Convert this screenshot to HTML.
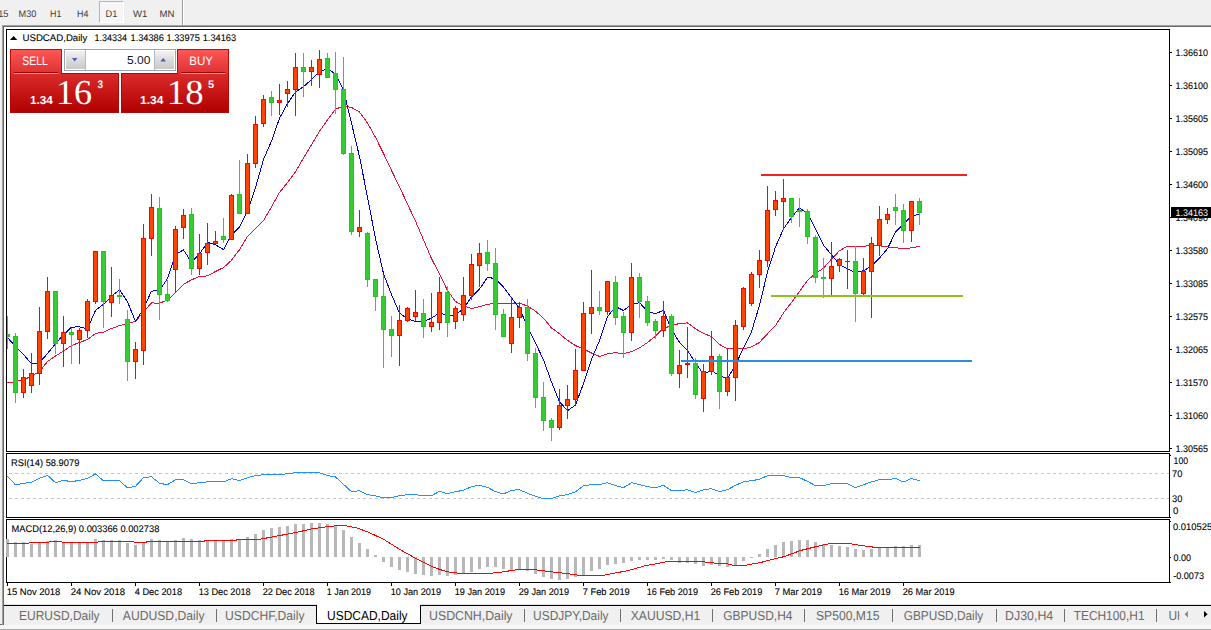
<!DOCTYPE html>
<html lang="en"><head><meta charset="utf-8"><title>USDCAD,Daily</title>
<style>
html,body{margin:0;padding:0}
body{width:1211px;height:630px;position:relative;overflow:hidden;background:#f0f0f0;font-family:"Liberation Sans",sans-serif}
div{position:absolute;box-sizing:border-box}
#toolbar{left:0;top:0;width:1211px;height:25px;background:#f0f0f0}
#d1{left:99px;top:1px;width:25px;height:22px;background:#f6f6f6;border:1px solid #fff;border-left-color:#b4b4b4;border-top-color:#b4b4b4}
#tbsep{left:182px;top:0;width:2px;height:25px;background:#fff;border-left:1px solid #a0a0a0}
#hl1{left:2px;top:25px;width:1209px;height:1px;background:#a0a0a0}
#hl2{left:2px;top:26px;width:1209px;height:1px;background:#696969}
#vl1{left:2px;top:25px;width:1px;height:600px;background:#a0a0a0}
#vl2{left:3px;top:26px;width:1px;height:599px;background:#696969}
#win{left:4px;top:27px;width:1207px;height:577px;background:#fff}
#tabbar{left:0;top:604px;width:1211px;height:26px;background:#f0f0f0}
#tabbar .l1{left:4px;top:0;width:1207px;height:1px;background:#e3e3e3}
#tabbar .l2{left:2px;top:1px;width:1209px;height:1px;background:#000}
#tabbar .b1{left:0;top:21px;width:1211px;height:4px;background:#f7f7f7}
#tabbar .b2{left:0;top:25px;width:1211px;height:1px;background:#a6a6a6}
#tabbar .foot{left:0;top:20px;width:4px;height:1px;background:#696969}
#active{left:316px;top:605px;width:105px;height:19px;background:#fff;border:1px solid #000;border-top:0}
#activetop{left:317px;top:603px;width:103px;height:3px;background:#fff}
svg{position:absolute;left:0;top:0}
text{font-family:"Liberation Sans",sans-serif;white-space:pre;text-rendering:geometricPrecision}
</style></head><body>
<div id="toolbar"><div id="d1"></div><div id="tbsep"></div></div>
<div id="win"></div>
<div id="hl1"></div><div id="hl2"></div>
<div id="tabbar"><div class="l1"></div><div class="l2"></div><div class="b1"></div><div class="b2"></div><div class="foot"></div></div>
<div id="vl1"></div><div id="vl2"></div>
<div id="active"></div><div id="activetop"></div>
<svg width="1211" height="630" viewBox="0 0 1211 630">
<defs>
<linearGradient id="gt" x1="0" y1="0" x2="0" y2="1"><stop offset="0" stop-color="#ff5656"/><stop offset="1" stop-color="#de3030"/></linearGradient>
<linearGradient id="gp" x1="0" y1="0" x2="0" y2="1"><stop offset="0" stop-color="#da2a2a"/><stop offset="1" stop-color="#b00000"/></linearGradient>
<linearGradient id="gb" x1="0" y1="0" x2="0" y2="1"><stop offset="0" stop-color="#f2f2f2"/><stop offset="0.5" stop-color="#dcdcdc"/><stop offset="1" stop-color="#c9c9c9"/></linearGradient>
<clipPath id="tabclip"><rect x="1160" y="606" width="19.4" height="18"/></clipPath>
<clipPath id="mainclip"><rect x="7" y="30" width="1162" height="421"/></clipPath>
</defs>
<g shape-rendering="crispEdges">
<!-- frame -->
<rect x="6" y="29" width="1164" height="1" fill="#000"/>
<rect x="6" y="29" width="1" height="554" fill="#000"/>
<rect x="1169" y="29" width="1" height="554" fill="#000"/>
<rect x="6" y="451" width="1164" height="1" fill="#000"/>
<rect x="6" y="452" width="1164" height="1" fill="#fff"/>
<rect x="6" y="453" width="1164" height="1" fill="#000"/>
<rect x="6" y="517" width="1164" height="1" fill="#000"/>
<rect x="6" y="518" width="1164" height="1" fill="#fff"/>
<rect x="6" y="519" width="1164" height="1" fill="#000"/>
<rect x="6" y="582" width="1164" height="1" fill="#000"/>
<rect x="1170" y="52" width="2" height="1" fill="#000"/><rect x="1170" y="85" width="2" height="1" fill="#000"/><rect x="1170" y="118" width="2" height="1" fill="#000"/><rect x="1170" y="151" width="2" height="1" fill="#000"/><rect x="1170" y="184" width="2" height="1" fill="#000"/><rect x="1170" y="217" width="2" height="1" fill="#000"/><rect x="1170" y="250" width="2" height="1" fill="#000"/><rect x="1170" y="283" width="2" height="1" fill="#000"/><rect x="1170" y="316" width="2" height="1" fill="#000"/><rect x="1170" y="349" width="2" height="1" fill="#000"/><rect x="1170" y="382" width="2" height="1" fill="#000"/><rect x="1170" y="415" width="2" height="1" fill="#000"/><rect x="1170" y="448" width="2" height="1" fill="#000"/><rect x="1170" y="455" width="1" height="1" fill="#000"/><rect x="1170" y="517" width="1" height="1" fill="#000"/><rect x="1170" y="521" width="1" height="1" fill="#000"/><rect x="1170" y="557" width="1" height="1" fill="#000"/><rect x="1170" y="582" width="1" height="1" fill="#000"/>
<rect x="7" y="583" width="1" height="3" fill="#000"/><rect x="71" y="583" width="1" height="3" fill="#000"/><rect x="135" y="583" width="1" height="3" fill="#000"/><rect x="199" y="583" width="1" height="3" fill="#000"/><rect x="263" y="583" width="1" height="3" fill="#000"/><rect x="327" y="583" width="1" height="3" fill="#000"/><rect x="391" y="583" width="1" height="3" fill="#000"/><rect x="455" y="583" width="1" height="3" fill="#000"/><rect x="519" y="583" width="1" height="3" fill="#000"/><rect x="583" y="583" width="1" height="3" fill="#000"/><rect x="647" y="583" width="1" height="3" fill="#000"/><rect x="711" y="583" width="1" height="3" fill="#000"/><rect x="775" y="583" width="1" height="3" fill="#000"/><rect x="839" y="583" width="1" height="3" fill="#000"/><rect x="903" y="583" width="1" height="3" fill="#000"/>
<rect x="9" y="473" width="3" height="1" fill="#c6c6c6"/><rect x="15" y="473" width="3" height="1" fill="#c6c6c6"/><rect x="21" y="473" width="3" height="1" fill="#c6c6c6"/><rect x="27" y="473" width="3" height="1" fill="#c6c6c6"/><rect x="33" y="473" width="3" height="1" fill="#c6c6c6"/><rect x="39" y="473" width="3" height="1" fill="#c6c6c6"/><rect x="45" y="473" width="3" height="1" fill="#c6c6c6"/><rect x="51" y="473" width="3" height="1" fill="#c6c6c6"/><rect x="57" y="473" width="3" height="1" fill="#c6c6c6"/><rect x="63" y="473" width="3" height="1" fill="#c6c6c6"/><rect x="69" y="473" width="3" height="1" fill="#c6c6c6"/><rect x="75" y="473" width="3" height="1" fill="#c6c6c6"/><rect x="81" y="473" width="3" height="1" fill="#c6c6c6"/><rect x="87" y="473" width="3" height="1" fill="#c6c6c6"/><rect x="93" y="473" width="3" height="1" fill="#c6c6c6"/><rect x="99" y="473" width="3" height="1" fill="#c6c6c6"/><rect x="105" y="473" width="3" height="1" fill="#c6c6c6"/><rect x="111" y="473" width="3" height="1" fill="#c6c6c6"/><rect x="117" y="473" width="3" height="1" fill="#c6c6c6"/><rect x="123" y="473" width="3" height="1" fill="#c6c6c6"/><rect x="129" y="473" width="3" height="1" fill="#c6c6c6"/><rect x="135" y="473" width="3" height="1" fill="#c6c6c6"/><rect x="141" y="473" width="3" height="1" fill="#c6c6c6"/><rect x="147" y="473" width="3" height="1" fill="#c6c6c6"/><rect x="153" y="473" width="3" height="1" fill="#c6c6c6"/><rect x="159" y="473" width="3" height="1" fill="#c6c6c6"/><rect x="165" y="473" width="3" height="1" fill="#c6c6c6"/><rect x="171" y="473" width="3" height="1" fill="#c6c6c6"/><rect x="177" y="473" width="3" height="1" fill="#c6c6c6"/><rect x="183" y="473" width="3" height="1" fill="#c6c6c6"/><rect x="189" y="473" width="3" height="1" fill="#c6c6c6"/><rect x="195" y="473" width="3" height="1" fill="#c6c6c6"/><rect x="201" y="473" width="3" height="1" fill="#c6c6c6"/><rect x="207" y="473" width="3" height="1" fill="#c6c6c6"/><rect x="213" y="473" width="3" height="1" fill="#c6c6c6"/><rect x="219" y="473" width="3" height="1" fill="#c6c6c6"/><rect x="225" y="473" width="3" height="1" fill="#c6c6c6"/><rect x="231" y="473" width="3" height="1" fill="#c6c6c6"/><rect x="237" y="473" width="3" height="1" fill="#c6c6c6"/><rect x="243" y="473" width="3" height="1" fill="#c6c6c6"/><rect x="249" y="473" width="3" height="1" fill="#c6c6c6"/><rect x="255" y="473" width="3" height="1" fill="#c6c6c6"/><rect x="261" y="473" width="3" height="1" fill="#c6c6c6"/><rect x="267" y="473" width="3" height="1" fill="#c6c6c6"/><rect x="273" y="473" width="3" height="1" fill="#c6c6c6"/><rect x="279" y="473" width="3" height="1" fill="#c6c6c6"/><rect x="285" y="473" width="3" height="1" fill="#c6c6c6"/><rect x="291" y="473" width="3" height="1" fill="#c6c6c6"/><rect x="297" y="473" width="3" height="1" fill="#c6c6c6"/><rect x="303" y="473" width="3" height="1" fill="#c6c6c6"/><rect x="309" y="473" width="3" height="1" fill="#c6c6c6"/><rect x="315" y="473" width="3" height="1" fill="#c6c6c6"/><rect x="321" y="473" width="3" height="1" fill="#c6c6c6"/><rect x="327" y="473" width="3" height="1" fill="#c6c6c6"/><rect x="333" y="473" width="3" height="1" fill="#c6c6c6"/><rect x="339" y="473" width="3" height="1" fill="#c6c6c6"/><rect x="345" y="473" width="3" height="1" fill="#c6c6c6"/><rect x="351" y="473" width="3" height="1" fill="#c6c6c6"/><rect x="357" y="473" width="3" height="1" fill="#c6c6c6"/><rect x="363" y="473" width="3" height="1" fill="#c6c6c6"/><rect x="369" y="473" width="3" height="1" fill="#c6c6c6"/><rect x="375" y="473" width="3" height="1" fill="#c6c6c6"/><rect x="381" y="473" width="3" height="1" fill="#c6c6c6"/><rect x="387" y="473" width="3" height="1" fill="#c6c6c6"/><rect x="393" y="473" width="3" height="1" fill="#c6c6c6"/><rect x="399" y="473" width="3" height="1" fill="#c6c6c6"/><rect x="405" y="473" width="3" height="1" fill="#c6c6c6"/><rect x="411" y="473" width="3" height="1" fill="#c6c6c6"/><rect x="417" y="473" width="3" height="1" fill="#c6c6c6"/><rect x="423" y="473" width="3" height="1" fill="#c6c6c6"/><rect x="429" y="473" width="3" height="1" fill="#c6c6c6"/><rect x="435" y="473" width="3" height="1" fill="#c6c6c6"/><rect x="441" y="473" width="3" height="1" fill="#c6c6c6"/><rect x="447" y="473" width="3" height="1" fill="#c6c6c6"/><rect x="453" y="473" width="3" height="1" fill="#c6c6c6"/><rect x="459" y="473" width="3" height="1" fill="#c6c6c6"/><rect x="465" y="473" width="3" height="1" fill="#c6c6c6"/><rect x="471" y="473" width="3" height="1" fill="#c6c6c6"/><rect x="477" y="473" width="3" height="1" fill="#c6c6c6"/><rect x="483" y="473" width="3" height="1" fill="#c6c6c6"/><rect x="489" y="473" width="3" height="1" fill="#c6c6c6"/><rect x="495" y="473" width="3" height="1" fill="#c6c6c6"/><rect x="501" y="473" width="3" height="1" fill="#c6c6c6"/><rect x="507" y="473" width="3" height="1" fill="#c6c6c6"/><rect x="513" y="473" width="3" height="1" fill="#c6c6c6"/><rect x="519" y="473" width="3" height="1" fill="#c6c6c6"/><rect x="525" y="473" width="3" height="1" fill="#c6c6c6"/><rect x="531" y="473" width="3" height="1" fill="#c6c6c6"/><rect x="537" y="473" width="3" height="1" fill="#c6c6c6"/><rect x="543" y="473" width="3" height="1" fill="#c6c6c6"/><rect x="549" y="473" width="3" height="1" fill="#c6c6c6"/><rect x="555" y="473" width="3" height="1" fill="#c6c6c6"/><rect x="561" y="473" width="3" height="1" fill="#c6c6c6"/><rect x="567" y="473" width="3" height="1" fill="#c6c6c6"/><rect x="573" y="473" width="3" height="1" fill="#c6c6c6"/><rect x="579" y="473" width="3" height="1" fill="#c6c6c6"/><rect x="585" y="473" width="3" height="1" fill="#c6c6c6"/><rect x="591" y="473" width="3" height="1" fill="#c6c6c6"/><rect x="597" y="473" width="3" height="1" fill="#c6c6c6"/><rect x="603" y="473" width="3" height="1" fill="#c6c6c6"/><rect x="609" y="473" width="3" height="1" fill="#c6c6c6"/><rect x="615" y="473" width="3" height="1" fill="#c6c6c6"/><rect x="621" y="473" width="3" height="1" fill="#c6c6c6"/><rect x="627" y="473" width="3" height="1" fill="#c6c6c6"/><rect x="633" y="473" width="3" height="1" fill="#c6c6c6"/><rect x="639" y="473" width="3" height="1" fill="#c6c6c6"/><rect x="645" y="473" width="3" height="1" fill="#c6c6c6"/><rect x="651" y="473" width="3" height="1" fill="#c6c6c6"/><rect x="657" y="473" width="3" height="1" fill="#c6c6c6"/><rect x="663" y="473" width="3" height="1" fill="#c6c6c6"/><rect x="669" y="473" width="3" height="1" fill="#c6c6c6"/><rect x="675" y="473" width="3" height="1" fill="#c6c6c6"/><rect x="681" y="473" width="3" height="1" fill="#c6c6c6"/><rect x="687" y="473" width="3" height="1" fill="#c6c6c6"/><rect x="693" y="473" width="3" height="1" fill="#c6c6c6"/><rect x="699" y="473" width="3" height="1" fill="#c6c6c6"/><rect x="705" y="473" width="3" height="1" fill="#c6c6c6"/><rect x="711" y="473" width="3" height="1" fill="#c6c6c6"/><rect x="717" y="473" width="3" height="1" fill="#c6c6c6"/><rect x="723" y="473" width="3" height="1" fill="#c6c6c6"/><rect x="729" y="473" width="3" height="1" fill="#c6c6c6"/><rect x="735" y="473" width="3" height="1" fill="#c6c6c6"/><rect x="741" y="473" width="3" height="1" fill="#c6c6c6"/><rect x="747" y="473" width="3" height="1" fill="#c6c6c6"/><rect x="753" y="473" width="3" height="1" fill="#c6c6c6"/><rect x="759" y="473" width="3" height="1" fill="#c6c6c6"/><rect x="765" y="473" width="3" height="1" fill="#c6c6c6"/><rect x="771" y="473" width="3" height="1" fill="#c6c6c6"/><rect x="777" y="473" width="3" height="1" fill="#c6c6c6"/><rect x="783" y="473" width="3" height="1" fill="#c6c6c6"/><rect x="789" y="473" width="3" height="1" fill="#c6c6c6"/><rect x="795" y="473" width="3" height="1" fill="#c6c6c6"/><rect x="801" y="473" width="3" height="1" fill="#c6c6c6"/><rect x="807" y="473" width="3" height="1" fill="#c6c6c6"/><rect x="813" y="473" width="3" height="1" fill="#c6c6c6"/><rect x="819" y="473" width="3" height="1" fill="#c6c6c6"/><rect x="825" y="473" width="3" height="1" fill="#c6c6c6"/><rect x="831" y="473" width="3" height="1" fill="#c6c6c6"/><rect x="837" y="473" width="3" height="1" fill="#c6c6c6"/><rect x="843" y="473" width="3" height="1" fill="#c6c6c6"/><rect x="849" y="473" width="3" height="1" fill="#c6c6c6"/><rect x="855" y="473" width="3" height="1" fill="#c6c6c6"/><rect x="861" y="473" width="3" height="1" fill="#c6c6c6"/><rect x="867" y="473" width="3" height="1" fill="#c6c6c6"/><rect x="873" y="473" width="3" height="1" fill="#c6c6c6"/><rect x="879" y="473" width="3" height="1" fill="#c6c6c6"/><rect x="885" y="473" width="3" height="1" fill="#c6c6c6"/><rect x="891" y="473" width="3" height="1" fill="#c6c6c6"/><rect x="897" y="473" width="3" height="1" fill="#c6c6c6"/><rect x="903" y="473" width="3" height="1" fill="#c6c6c6"/><rect x="909" y="473" width="3" height="1" fill="#c6c6c6"/><rect x="915" y="473" width="3" height="1" fill="#c6c6c6"/><rect x="921" y="473" width="3" height="1" fill="#c6c6c6"/><rect x="927" y="473" width="3" height="1" fill="#c6c6c6"/><rect x="933" y="473" width="3" height="1" fill="#c6c6c6"/><rect x="939" y="473" width="3" height="1" fill="#c6c6c6"/><rect x="945" y="473" width="3" height="1" fill="#c6c6c6"/><rect x="951" y="473" width="3" height="1" fill="#c6c6c6"/><rect x="957" y="473" width="3" height="1" fill="#c6c6c6"/><rect x="963" y="473" width="3" height="1" fill="#c6c6c6"/><rect x="969" y="473" width="3" height="1" fill="#c6c6c6"/><rect x="975" y="473" width="3" height="1" fill="#c6c6c6"/><rect x="981" y="473" width="3" height="1" fill="#c6c6c6"/><rect x="987" y="473" width="3" height="1" fill="#c6c6c6"/><rect x="993" y="473" width="3" height="1" fill="#c6c6c6"/><rect x="999" y="473" width="3" height="1" fill="#c6c6c6"/><rect x="1005" y="473" width="3" height="1" fill="#c6c6c6"/><rect x="1011" y="473" width="3" height="1" fill="#c6c6c6"/><rect x="1017" y="473" width="3" height="1" fill="#c6c6c6"/><rect x="1023" y="473" width="3" height="1" fill="#c6c6c6"/><rect x="1029" y="473" width="3" height="1" fill="#c6c6c6"/><rect x="1035" y="473" width="3" height="1" fill="#c6c6c6"/><rect x="1041" y="473" width="3" height="1" fill="#c6c6c6"/><rect x="1047" y="473" width="3" height="1" fill="#c6c6c6"/><rect x="1053" y="473" width="3" height="1" fill="#c6c6c6"/><rect x="1059" y="473" width="3" height="1" fill="#c6c6c6"/><rect x="1065" y="473" width="3" height="1" fill="#c6c6c6"/><rect x="1071" y="473" width="3" height="1" fill="#c6c6c6"/><rect x="1077" y="473" width="3" height="1" fill="#c6c6c6"/><rect x="1083" y="473" width="3" height="1" fill="#c6c6c6"/><rect x="1089" y="473" width="3" height="1" fill="#c6c6c6"/><rect x="1095" y="473" width="3" height="1" fill="#c6c6c6"/><rect x="1101" y="473" width="3" height="1" fill="#c6c6c6"/><rect x="1107" y="473" width="3" height="1" fill="#c6c6c6"/><rect x="1113" y="473" width="3" height="1" fill="#c6c6c6"/><rect x="1119" y="473" width="3" height="1" fill="#c6c6c6"/><rect x="1125" y="473" width="3" height="1" fill="#c6c6c6"/><rect x="1131" y="473" width="3" height="1" fill="#c6c6c6"/><rect x="1137" y="473" width="3" height="1" fill="#c6c6c6"/><rect x="1143" y="473" width="3" height="1" fill="#c6c6c6"/><rect x="1149" y="473" width="3" height="1" fill="#c6c6c6"/><rect x="1155" y="473" width="3" height="1" fill="#c6c6c6"/><rect x="1161" y="473" width="3" height="1" fill="#c6c6c6"/><rect x="1167" y="473" width="2" height="1" fill="#c6c6c6"/><rect x="9" y="498" width="3" height="1" fill="#c6c6c6"/><rect x="15" y="498" width="3" height="1" fill="#c6c6c6"/><rect x="21" y="498" width="3" height="1" fill="#c6c6c6"/><rect x="27" y="498" width="3" height="1" fill="#c6c6c6"/><rect x="33" y="498" width="3" height="1" fill="#c6c6c6"/><rect x="39" y="498" width="3" height="1" fill="#c6c6c6"/><rect x="45" y="498" width="3" height="1" fill="#c6c6c6"/><rect x="51" y="498" width="3" height="1" fill="#c6c6c6"/><rect x="57" y="498" width="3" height="1" fill="#c6c6c6"/><rect x="63" y="498" width="3" height="1" fill="#c6c6c6"/><rect x="69" y="498" width="3" height="1" fill="#c6c6c6"/><rect x="75" y="498" width="3" height="1" fill="#c6c6c6"/><rect x="81" y="498" width="3" height="1" fill="#c6c6c6"/><rect x="87" y="498" width="3" height="1" fill="#c6c6c6"/><rect x="93" y="498" width="3" height="1" fill="#c6c6c6"/><rect x="99" y="498" width="3" height="1" fill="#c6c6c6"/><rect x="105" y="498" width="3" height="1" fill="#c6c6c6"/><rect x="111" y="498" width="3" height="1" fill="#c6c6c6"/><rect x="117" y="498" width="3" height="1" fill="#c6c6c6"/><rect x="123" y="498" width="3" height="1" fill="#c6c6c6"/><rect x="129" y="498" width="3" height="1" fill="#c6c6c6"/><rect x="135" y="498" width="3" height="1" fill="#c6c6c6"/><rect x="141" y="498" width="3" height="1" fill="#c6c6c6"/><rect x="147" y="498" width="3" height="1" fill="#c6c6c6"/><rect x="153" y="498" width="3" height="1" fill="#c6c6c6"/><rect x="159" y="498" width="3" height="1" fill="#c6c6c6"/><rect x="165" y="498" width="3" height="1" fill="#c6c6c6"/><rect x="171" y="498" width="3" height="1" fill="#c6c6c6"/><rect x="177" y="498" width="3" height="1" fill="#c6c6c6"/><rect x="183" y="498" width="3" height="1" fill="#c6c6c6"/><rect x="189" y="498" width="3" height="1" fill="#c6c6c6"/><rect x="195" y="498" width="3" height="1" fill="#c6c6c6"/><rect x="201" y="498" width="3" height="1" fill="#c6c6c6"/><rect x="207" y="498" width="3" height="1" fill="#c6c6c6"/><rect x="213" y="498" width="3" height="1" fill="#c6c6c6"/><rect x="219" y="498" width="3" height="1" fill="#c6c6c6"/><rect x="225" y="498" width="3" height="1" fill="#c6c6c6"/><rect x="231" y="498" width="3" height="1" fill="#c6c6c6"/><rect x="237" y="498" width="3" height="1" fill="#c6c6c6"/><rect x="243" y="498" width="3" height="1" fill="#c6c6c6"/><rect x="249" y="498" width="3" height="1" fill="#c6c6c6"/><rect x="255" y="498" width="3" height="1" fill="#c6c6c6"/><rect x="261" y="498" width="3" height="1" fill="#c6c6c6"/><rect x="267" y="498" width="3" height="1" fill="#c6c6c6"/><rect x="273" y="498" width="3" height="1" fill="#c6c6c6"/><rect x="279" y="498" width="3" height="1" fill="#c6c6c6"/><rect x="285" y="498" width="3" height="1" fill="#c6c6c6"/><rect x="291" y="498" width="3" height="1" fill="#c6c6c6"/><rect x="297" y="498" width="3" height="1" fill="#c6c6c6"/><rect x="303" y="498" width="3" height="1" fill="#c6c6c6"/><rect x="309" y="498" width="3" height="1" fill="#c6c6c6"/><rect x="315" y="498" width="3" height="1" fill="#c6c6c6"/><rect x="321" y="498" width="3" height="1" fill="#c6c6c6"/><rect x="327" y="498" width="3" height="1" fill="#c6c6c6"/><rect x="333" y="498" width="3" height="1" fill="#c6c6c6"/><rect x="339" y="498" width="3" height="1" fill="#c6c6c6"/><rect x="345" y="498" width="3" height="1" fill="#c6c6c6"/><rect x="351" y="498" width="3" height="1" fill="#c6c6c6"/><rect x="357" y="498" width="3" height="1" fill="#c6c6c6"/><rect x="363" y="498" width="3" height="1" fill="#c6c6c6"/><rect x="369" y="498" width="3" height="1" fill="#c6c6c6"/><rect x="375" y="498" width="3" height="1" fill="#c6c6c6"/><rect x="381" y="498" width="3" height="1" fill="#c6c6c6"/><rect x="387" y="498" width="3" height="1" fill="#c6c6c6"/><rect x="393" y="498" width="3" height="1" fill="#c6c6c6"/><rect x="399" y="498" width="3" height="1" fill="#c6c6c6"/><rect x="405" y="498" width="3" height="1" fill="#c6c6c6"/><rect x="411" y="498" width="3" height="1" fill="#c6c6c6"/><rect x="417" y="498" width="3" height="1" fill="#c6c6c6"/><rect x="423" y="498" width="3" height="1" fill="#c6c6c6"/><rect x="429" y="498" width="3" height="1" fill="#c6c6c6"/><rect x="435" y="498" width="3" height="1" fill="#c6c6c6"/><rect x="441" y="498" width="3" height="1" fill="#c6c6c6"/><rect x="447" y="498" width="3" height="1" fill="#c6c6c6"/><rect x="453" y="498" width="3" height="1" fill="#c6c6c6"/><rect x="459" y="498" width="3" height="1" fill="#c6c6c6"/><rect x="465" y="498" width="3" height="1" fill="#c6c6c6"/><rect x="471" y="498" width="3" height="1" fill="#c6c6c6"/><rect x="477" y="498" width="3" height="1" fill="#c6c6c6"/><rect x="483" y="498" width="3" height="1" fill="#c6c6c6"/><rect x="489" y="498" width="3" height="1" fill="#c6c6c6"/><rect x="495" y="498" width="3" height="1" fill="#c6c6c6"/><rect x="501" y="498" width="3" height="1" fill="#c6c6c6"/><rect x="507" y="498" width="3" height="1" fill="#c6c6c6"/><rect x="513" y="498" width="3" height="1" fill="#c6c6c6"/><rect x="519" y="498" width="3" height="1" fill="#c6c6c6"/><rect x="525" y="498" width="3" height="1" fill="#c6c6c6"/><rect x="531" y="498" width="3" height="1" fill="#c6c6c6"/><rect x="537" y="498" width="3" height="1" fill="#c6c6c6"/><rect x="543" y="498" width="3" height="1" fill="#c6c6c6"/><rect x="549" y="498" width="3" height="1" fill="#c6c6c6"/><rect x="555" y="498" width="3" height="1" fill="#c6c6c6"/><rect x="561" y="498" width="3" height="1" fill="#c6c6c6"/><rect x="567" y="498" width="3" height="1" fill="#c6c6c6"/><rect x="573" y="498" width="3" height="1" fill="#c6c6c6"/><rect x="579" y="498" width="3" height="1" fill="#c6c6c6"/><rect x="585" y="498" width="3" height="1" fill="#c6c6c6"/><rect x="591" y="498" width="3" height="1" fill="#c6c6c6"/><rect x="597" y="498" width="3" height="1" fill="#c6c6c6"/><rect x="603" y="498" width="3" height="1" fill="#c6c6c6"/><rect x="609" y="498" width="3" height="1" fill="#c6c6c6"/><rect x="615" y="498" width="3" height="1" fill="#c6c6c6"/><rect x="621" y="498" width="3" height="1" fill="#c6c6c6"/><rect x="627" y="498" width="3" height="1" fill="#c6c6c6"/><rect x="633" y="498" width="3" height="1" fill="#c6c6c6"/><rect x="639" y="498" width="3" height="1" fill="#c6c6c6"/><rect x="645" y="498" width="3" height="1" fill="#c6c6c6"/><rect x="651" y="498" width="3" height="1" fill="#c6c6c6"/><rect x="657" y="498" width="3" height="1" fill="#c6c6c6"/><rect x="663" y="498" width="3" height="1" fill="#c6c6c6"/><rect x="669" y="498" width="3" height="1" fill="#c6c6c6"/><rect x="675" y="498" width="3" height="1" fill="#c6c6c6"/><rect x="681" y="498" width="3" height="1" fill="#c6c6c6"/><rect x="687" y="498" width="3" height="1" fill="#c6c6c6"/><rect x="693" y="498" width="3" height="1" fill="#c6c6c6"/><rect x="699" y="498" width="3" height="1" fill="#c6c6c6"/><rect x="705" y="498" width="3" height="1" fill="#c6c6c6"/><rect x="711" y="498" width="3" height="1" fill="#c6c6c6"/><rect x="717" y="498" width="3" height="1" fill="#c6c6c6"/><rect x="723" y="498" width="3" height="1" fill="#c6c6c6"/><rect x="729" y="498" width="3" height="1" fill="#c6c6c6"/><rect x="735" y="498" width="3" height="1" fill="#c6c6c6"/><rect x="741" y="498" width="3" height="1" fill="#c6c6c6"/><rect x="747" y="498" width="3" height="1" fill="#c6c6c6"/><rect x="753" y="498" width="3" height="1" fill="#c6c6c6"/><rect x="759" y="498" width="3" height="1" fill="#c6c6c6"/><rect x="765" y="498" width="3" height="1" fill="#c6c6c6"/><rect x="771" y="498" width="3" height="1" fill="#c6c6c6"/><rect x="777" y="498" width="3" height="1" fill="#c6c6c6"/><rect x="783" y="498" width="3" height="1" fill="#c6c6c6"/><rect x="789" y="498" width="3" height="1" fill="#c6c6c6"/><rect x="795" y="498" width="3" height="1" fill="#c6c6c6"/><rect x="801" y="498" width="3" height="1" fill="#c6c6c6"/><rect x="807" y="498" width="3" height="1" fill="#c6c6c6"/><rect x="813" y="498" width="3" height="1" fill="#c6c6c6"/><rect x="819" y="498" width="3" height="1" fill="#c6c6c6"/><rect x="825" y="498" width="3" height="1" fill="#c6c6c6"/><rect x="831" y="498" width="3" height="1" fill="#c6c6c6"/><rect x="837" y="498" width="3" height="1" fill="#c6c6c6"/><rect x="843" y="498" width="3" height="1" fill="#c6c6c6"/><rect x="849" y="498" width="3" height="1" fill="#c6c6c6"/><rect x="855" y="498" width="3" height="1" fill="#c6c6c6"/><rect x="861" y="498" width="3" height="1" fill="#c6c6c6"/><rect x="867" y="498" width="3" height="1" fill="#c6c6c6"/><rect x="873" y="498" width="3" height="1" fill="#c6c6c6"/><rect x="879" y="498" width="3" height="1" fill="#c6c6c6"/><rect x="885" y="498" width="3" height="1" fill="#c6c6c6"/><rect x="891" y="498" width="3" height="1" fill="#c6c6c6"/><rect x="897" y="498" width="3" height="1" fill="#c6c6c6"/><rect x="903" y="498" width="3" height="1" fill="#c6c6c6"/><rect x="909" y="498" width="3" height="1" fill="#c6c6c6"/><rect x="915" y="498" width="3" height="1" fill="#c6c6c6"/><rect x="921" y="498" width="3" height="1" fill="#c6c6c6"/><rect x="927" y="498" width="3" height="1" fill="#c6c6c6"/><rect x="933" y="498" width="3" height="1" fill="#c6c6c6"/><rect x="939" y="498" width="3" height="1" fill="#c6c6c6"/><rect x="945" y="498" width="3" height="1" fill="#c6c6c6"/><rect x="951" y="498" width="3" height="1" fill="#c6c6c6"/><rect x="957" y="498" width="3" height="1" fill="#c6c6c6"/><rect x="963" y="498" width="3" height="1" fill="#c6c6c6"/><rect x="969" y="498" width="3" height="1" fill="#c6c6c6"/><rect x="975" y="498" width="3" height="1" fill="#c6c6c6"/><rect x="981" y="498" width="3" height="1" fill="#c6c6c6"/><rect x="987" y="498" width="3" height="1" fill="#c6c6c6"/><rect x="993" y="498" width="3" height="1" fill="#c6c6c6"/><rect x="999" y="498" width="3" height="1" fill="#c6c6c6"/><rect x="1005" y="498" width="3" height="1" fill="#c6c6c6"/><rect x="1011" y="498" width="3" height="1" fill="#c6c6c6"/><rect x="1017" y="498" width="3" height="1" fill="#c6c6c6"/><rect x="1023" y="498" width="3" height="1" fill="#c6c6c6"/><rect x="1029" y="498" width="3" height="1" fill="#c6c6c6"/><rect x="1035" y="498" width="3" height="1" fill="#c6c6c6"/><rect x="1041" y="498" width="3" height="1" fill="#c6c6c6"/><rect x="1047" y="498" width="3" height="1" fill="#c6c6c6"/><rect x="1053" y="498" width="3" height="1" fill="#c6c6c6"/><rect x="1059" y="498" width="3" height="1" fill="#c6c6c6"/><rect x="1065" y="498" width="3" height="1" fill="#c6c6c6"/><rect x="1071" y="498" width="3" height="1" fill="#c6c6c6"/><rect x="1077" y="498" width="3" height="1" fill="#c6c6c6"/><rect x="1083" y="498" width="3" height="1" fill="#c6c6c6"/><rect x="1089" y="498" width="3" height="1" fill="#c6c6c6"/><rect x="1095" y="498" width="3" height="1" fill="#c6c6c6"/><rect x="1101" y="498" width="3" height="1" fill="#c6c6c6"/><rect x="1107" y="498" width="3" height="1" fill="#c6c6c6"/><rect x="1113" y="498" width="3" height="1" fill="#c6c6c6"/><rect x="1119" y="498" width="3" height="1" fill="#c6c6c6"/><rect x="1125" y="498" width="3" height="1" fill="#c6c6c6"/><rect x="1131" y="498" width="3" height="1" fill="#c6c6c6"/><rect x="1137" y="498" width="3" height="1" fill="#c6c6c6"/><rect x="1143" y="498" width="3" height="1" fill="#c6c6c6"/><rect x="1149" y="498" width="3" height="1" fill="#c6c6c6"/><rect x="1155" y="498" width="3" height="1" fill="#c6c6c6"/><rect x="1161" y="498" width="3" height="1" fill="#c6c6c6"/><rect x="1167" y="498" width="2" height="1" fill="#c6c6c6"/>
<g clip-path="url(#mainclip)">
<polyline points="7.5,382.9 15.5,381.5 23.5,380.0 31.5,376.0 39.5,371.5 47.5,361.5 55.5,356.0 63.5,351.0 71.5,345.5 79.5,342.5 87.5,339.5 95.5,333.5 103.5,332.1 111.5,328.5 119.5,325.6 127.5,323.4 135.5,321.4 143.5,311.8 151.5,302.9 159.5,303.2 167.5,300.1 175.5,292.8 183.5,284.2 191.5,279.9 199.5,276.4 207.5,275.9 215.5,271.5 223.5,267.6 231.5,260.3 239.5,249.7 247.5,236.4 255.5,228.3 263.5,220.6 271.5,206.9 279.5,192.5 287.5,182.5 295.5,171.9 303.5,157.9 311.5,144.6 319.5,131.4 327.5,119.8 335.5,109.1 343.5,106.1 351.5,107.4 359.5,112.0 367.5,123.1 375.5,137.3 383.5,153.5 391.5,170.4 399.5,186.9 407.5,204.1 415.5,221.2 423.5,239.8 431.5,258.6 439.5,273.9 447.5,290.5 455.5,301.5 463.5,306.0 471.5,308.6 479.5,306.7 487.5,304.4 495.5,303.3 503.5,303.4 511.5,303.1 519.5,303.1 527.5,306.1 535.5,311.1 543.5,318.2 551.5,327.9 559.5,333.8 567.5,340.3 575.5,345.6 583.5,349.1 591.5,353.0 599.5,356.4 607.5,353.9 615.5,352.6 623.5,353.7 631.5,351.6 639.5,347.9 647.5,342.5 655.5,336.1 663.5,328.1 671.5,325.9 679.5,323.4 687.5,322.9 695.5,328.8 703.5,333.4 711.5,336.6 719.5,344.5 727.5,348.7 735.5,348.1 743.5,348.9 751.5,346.9 759.5,342.4 767.5,333.8 775.5,325.5 783.5,312.9 791.5,302.4 799.5,291.6 807.5,280.3 815.5,273.6 823.5,268.1 831.5,259.1 839.5,250.7 847.5,246.1 855.5,246.6 863.5,246.4 871.5,245.1 879.5,245.8 887.5,246.8 895.5,247.7 903.5,248.7 911.5,247.9 919.5,246.2" fill="none" stroke="#dc143c" stroke-width="1"/>
<polyline points="7.5,337.5 15.5,346.5 23.5,354.5 31.5,363.9 39.5,362.7 47.5,353.5 55.5,343.7 63.5,334.7 71.5,327.1 79.5,326.9 87.5,328.9 95.5,310.3 103.5,304.3 111.5,296.3 119.5,289.7 127.5,301.9 135.5,321.5 143.5,308.7 151.5,291.1 159.5,290.7 167.5,278.5 175.5,254.5 183.5,249.9 191.5,262.3 199.5,253.9 207.5,242.3 215.5,244.7 223.5,249.7 231.5,234.9 239.5,227.1 247.5,211.1 255.5,187.7 263.5,159.5 271.5,141.1 279.5,118.3 287.5,103.5 295.5,92.1 303.5,86.7 311.5,79.5 319.5,71.3 327.5,69.1 335.5,73.7 343.5,90.1 351.5,123.1 359.5,156.7 367.5,197.1 375.5,238.5 383.5,273.7 391.5,294.5 399.5,313.1 407.5,318.7 415.5,321.7 423.5,321.1 431.5,318.3 439.5,312.7 447.5,315.7 455.5,314.9 463.5,308.5 471.5,296.9 479.5,289.1 487.5,277.3 495.5,278.7 503.5,287.1 511.5,297.7 519.5,308.5 527.5,326.5 535.5,343.1 543.5,359.9 551.5,382.1 559.5,401.7 567.5,410.7 575.5,405.1 583.5,383.5 591.5,359.3 599.5,340.5 607.5,316.9 615.5,306.5 623.5,310.5 631.5,304.5 639.5,302.7 647.5,311.1 655.5,313.7 663.5,310.3 671.5,329.7 679.5,342.3 687.5,350.3 695.5,363.1 703.5,374.1 711.5,370.5 719.5,375.9 727.5,378.7 735.5,364.7 743.5,348.1 751.5,331.7 759.5,305.3 767.5,271.9 775.5,246.9 783.5,228.9 791.5,217.5 799.5,207.9 807.5,213.3 815.5,228.9 823.5,245.1 831.5,254.9 839.5,264.3 847.5,269.1 855.5,272.3 863.5,270.7 871.5,266.1 879.5,258.1 887.5,248.7 895.5,232.1 903.5,224.1 911.5,215.7 919.5,214.5" fill="none" stroke="#0000cd" stroke-width="1"/>
<rect x="7" y="316" width="1" height="33" fill="#32cd32"/>
<rect x="5" y="334" width="5" height="3" fill="#21c721"/>
<rect x="6" y="335" width="3" height="1" fill="#32cd32"/>
<rect x="15" y="333" width="1" height="70" fill="#32cd32"/>
<rect x="13" y="336" width="5" height="57" fill="#21c721"/>
<rect x="14" y="337" width="3" height="55" fill="#32cd32"/>
<rect x="23" y="369" width="1" height="29" fill="#ff0000"/>
<rect x="21" y="377" width="5" height="16" fill="#ff0000"/>
<rect x="22" y="378" width="3" height="14" fill="#ff4500"/>
<rect x="31" y="353" width="1" height="40" fill="#ff0000"/>
<rect x="29" y="373" width="5" height="13" fill="#ff0000"/>
<rect x="30" y="374" width="3" height="11" fill="#ff4500"/>
<rect x="39" y="307" width="1" height="78" fill="#ff0000"/>
<rect x="37" y="331" width="5" height="43" fill="#ff0000"/>
<rect x="38" y="332" width="3" height="41" fill="#ff4500"/>
<rect x="47" y="277" width="1" height="62" fill="#ff0000"/>
<rect x="45" y="291" width="5" height="41" fill="#ff0000"/>
<rect x="46" y="292" width="3" height="39" fill="#ff4500"/>
<rect x="55" y="291" width="1" height="63" fill="#32cd32"/>
<rect x="53" y="291" width="5" height="53" fill="#21c721"/>
<rect x="54" y="292" width="3" height="51" fill="#32cd32"/>
<rect x="63" y="316" width="1" height="51" fill="#ff0000"/>
<rect x="61" y="332" width="5" height="12" fill="#ff0000"/>
<rect x="62" y="333" width="3" height="10" fill="#ff4500"/>
<rect x="71" y="328" width="1" height="36" fill="#32cd32"/>
<rect x="69" y="332" width="5" height="3" fill="#21c721"/>
<rect x="70" y="333" width="3" height="1" fill="#32cd32"/>
<rect x="79" y="328" width="1" height="36" fill="#ff0000"/>
<rect x="77" y="330" width="5" height="10" fill="#ff0000"/>
<rect x="78" y="331" width="3" height="8" fill="#ff4500"/>
<rect x="87" y="299" width="1" height="39" fill="#ff0000"/>
<rect x="85" y="301" width="5" height="30" fill="#ff0000"/>
<rect x="86" y="302" width="3" height="28" fill="#ff4500"/>
<rect x="95" y="251" width="1" height="53" fill="#ff0000"/>
<rect x="93" y="251" width="5" height="51" fill="#ff0000"/>
<rect x="94" y="252" width="3" height="49" fill="#ff4500"/>
<rect x="103" y="251" width="1" height="77" fill="#32cd32"/>
<rect x="101" y="251" width="5" height="51" fill="#21c721"/>
<rect x="102" y="252" width="3" height="49" fill="#32cd32"/>
<rect x="111" y="267" width="1" height="50" fill="#ff0000"/>
<rect x="109" y="295" width="5" height="8" fill="#ff0000"/>
<rect x="110" y="296" width="3" height="6" fill="#ff4500"/>
<rect x="119" y="279" width="1" height="25" fill="#32cd32"/>
<rect x="117" y="295" width="5" height="2" fill="#21c721"/>
<rect x="127" y="310" width="1" height="71" fill="#32cd32"/>
<rect x="125" y="319" width="5" height="43" fill="#21c721"/>
<rect x="126" y="320" width="3" height="41" fill="#32cd32"/>
<rect x="135" y="342" width="1" height="37" fill="#ff0000"/>
<rect x="133" y="349" width="5" height="13" fill="#ff0000"/>
<rect x="134" y="350" width="3" height="11" fill="#ff4500"/>
<rect x="143" y="224" width="1" height="141" fill="#ff0000"/>
<rect x="141" y="238" width="5" height="113" fill="#ff0000"/>
<rect x="142" y="239" width="3" height="111" fill="#ff4500"/>
<rect x="151" y="194" width="1" height="62" fill="#ff0000"/>
<rect x="149" y="207" width="5" height="32" fill="#ff0000"/>
<rect x="150" y="208" width="3" height="30" fill="#ff4500"/>
<rect x="159" y="197" width="1" height="123" fill="#32cd32"/>
<rect x="157" y="208" width="5" height="87" fill="#21c721"/>
<rect x="158" y="209" width="3" height="85" fill="#32cd32"/>
<rect x="167" y="280" width="1" height="22" fill="#32cd32"/>
<rect x="165" y="294" width="5" height="7" fill="#21c721"/>
<rect x="166" y="295" width="3" height="5" fill="#32cd32"/>
<rect x="175" y="226" width="1" height="67" fill="#ff0000"/>
<rect x="173" y="229" width="5" height="41" fill="#ff0000"/>
<rect x="174" y="230" width="3" height="39" fill="#ff4500"/>
<rect x="183" y="209" width="1" height="30" fill="#ff0000"/>
<rect x="181" y="215" width="5" height="13" fill="#ff0000"/>
<rect x="182" y="216" width="3" height="11" fill="#ff4500"/>
<rect x="191" y="208" width="1" height="67" fill="#32cd32"/>
<rect x="189" y="214" width="5" height="55" fill="#21c721"/>
<rect x="190" y="215" width="3" height="53" fill="#32cd32"/>
<rect x="199" y="234" width="1" height="41" fill="#ff0000"/>
<rect x="197" y="253" width="5" height="16" fill="#ff0000"/>
<rect x="198" y="254" width="3" height="14" fill="#ff4500"/>
<rect x="207" y="223" width="1" height="42" fill="#ff0000"/>
<rect x="205" y="243" width="5" height="10" fill="#ff0000"/>
<rect x="206" y="244" width="3" height="8" fill="#ff4500"/>
<rect x="215" y="231" width="1" height="13" fill="#ff0000"/>
<rect x="213" y="241" width="5" height="3" fill="#ff0000"/>
<rect x="214" y="242" width="3" height="1" fill="#ff4500"/>
<rect x="223" y="218" width="1" height="25" fill="#32cd32"/>
<rect x="221" y="236" width="5" height="4" fill="#21c721"/>
<rect x="222" y="237" width="3" height="2" fill="#32cd32"/>
<rect x="231" y="194" width="1" height="46" fill="#ff0000"/>
<rect x="229" y="195" width="5" height="45" fill="#ff0000"/>
<rect x="230" y="196" width="3" height="43" fill="#ff4500"/>
<rect x="239" y="160" width="1" height="54" fill="#32cd32"/>
<rect x="237" y="194" width="5" height="20" fill="#21c721"/>
<rect x="238" y="195" width="3" height="18" fill="#32cd32"/>
<rect x="247" y="154" width="1" height="60" fill="#ff0000"/>
<rect x="245" y="163" width="5" height="51" fill="#ff0000"/>
<rect x="246" y="164" width="3" height="49" fill="#ff4500"/>
<rect x="255" y="116" width="1" height="52" fill="#ff0000"/>
<rect x="253" y="124" width="5" height="40" fill="#ff0000"/>
<rect x="254" y="125" width="3" height="38" fill="#ff4500"/>
<rect x="263" y="95" width="1" height="32" fill="#ff0000"/>
<rect x="261" y="99" width="5" height="25" fill="#ff0000"/>
<rect x="262" y="100" width="3" height="23" fill="#ff4500"/>
<rect x="271" y="91" width="1" height="25" fill="#32cd32"/>
<rect x="269" y="97" width="5" height="6" fill="#21c721"/>
<rect x="270" y="98" width="3" height="4" fill="#32cd32"/>
<rect x="279" y="84" width="1" height="31" fill="#ff0000"/>
<rect x="277" y="100" width="5" height="3" fill="#ff0000"/>
<rect x="278" y="101" width="3" height="1" fill="#ff4500"/>
<rect x="287" y="81" width="1" height="26" fill="#ff0000"/>
<rect x="285" y="89" width="5" height="5" fill="#ff0000"/>
<rect x="286" y="90" width="3" height="3" fill="#ff4500"/>
<rect x="295" y="53" width="1" height="63" fill="#ff0000"/>
<rect x="293" y="67" width="5" height="23" fill="#ff0000"/>
<rect x="294" y="68" width="3" height="21" fill="#ff4500"/>
<rect x="303" y="53" width="1" height="44" fill="#32cd32"/>
<rect x="301" y="67" width="5" height="5" fill="#21c721"/>
<rect x="302" y="68" width="3" height="3" fill="#32cd32"/>
<rect x="311" y="60" width="1" height="26" fill="#ff0000"/>
<rect x="309" y="67" width="5" height="5" fill="#ff0000"/>
<rect x="310" y="68" width="3" height="3" fill="#ff4500"/>
<rect x="319" y="50" width="1" height="38" fill="#ff0000"/>
<rect x="317" y="59" width="5" height="16" fill="#ff0000"/>
<rect x="318" y="60" width="3" height="14" fill="#ff4500"/>
<rect x="327" y="53" width="1" height="25" fill="#32cd32"/>
<rect x="325" y="58" width="5" height="20" fill="#21c721"/>
<rect x="326" y="59" width="3" height="18" fill="#32cd32"/>
<rect x="335" y="52" width="1" height="62" fill="#32cd32"/>
<rect x="333" y="73" width="5" height="17" fill="#21c721"/>
<rect x="334" y="74" width="3" height="15" fill="#32cd32"/>
<rect x="343" y="57" width="1" height="98" fill="#32cd32"/>
<rect x="341" y="89" width="5" height="65" fill="#21c721"/>
<rect x="342" y="90" width="3" height="63" fill="#32cd32"/>
<rect x="351" y="146" width="1" height="89" fill="#32cd32"/>
<rect x="349" y="153" width="5" height="79" fill="#21c721"/>
<rect x="350" y="154" width="3" height="77" fill="#32cd32"/>
<rect x="359" y="210" width="1" height="27" fill="#ff0000"/>
<rect x="357" y="227" width="5" height="5" fill="#ff0000"/>
<rect x="358" y="228" width="3" height="3" fill="#ff4500"/>
<rect x="367" y="232" width="1" height="55" fill="#32cd32"/>
<rect x="365" y="233" width="5" height="47" fill="#21c721"/>
<rect x="366" y="234" width="3" height="45" fill="#32cd32"/>
<rect x="375" y="279" width="1" height="32" fill="#32cd32"/>
<rect x="373" y="279" width="5" height="18" fill="#21c721"/>
<rect x="374" y="280" width="3" height="16" fill="#32cd32"/>
<rect x="383" y="275" width="1" height="93" fill="#32cd32"/>
<rect x="381" y="296" width="5" height="34" fill="#21c721"/>
<rect x="382" y="297" width="3" height="32" fill="#32cd32"/>
<rect x="391" y="316" width="1" height="41" fill="#32cd32"/>
<rect x="389" y="329" width="5" height="7" fill="#21c721"/>
<rect x="390" y="330" width="3" height="5" fill="#32cd32"/>
<rect x="399" y="305" width="1" height="61" fill="#ff0000"/>
<rect x="397" y="320" width="5" height="16" fill="#ff0000"/>
<rect x="398" y="321" width="3" height="14" fill="#ff4500"/>
<rect x="407" y="307" width="1" height="15" fill="#ff0000"/>
<rect x="405" y="308" width="5" height="13" fill="#ff0000"/>
<rect x="406" y="309" width="3" height="11" fill="#ff4500"/>
<rect x="415" y="290" width="1" height="31" fill="#ff0000"/>
<rect x="413" y="312" width="5" height="5" fill="#ff0000"/>
<rect x="414" y="313" width="3" height="3" fill="#ff4500"/>
<rect x="423" y="299" width="1" height="39" fill="#32cd32"/>
<rect x="421" y="313" width="5" height="14" fill="#21c721"/>
<rect x="422" y="314" width="3" height="12" fill="#32cd32"/>
<rect x="431" y="293" width="1" height="39" fill="#ff0000"/>
<rect x="429" y="322" width="5" height="5" fill="#ff0000"/>
<rect x="430" y="323" width="3" height="3" fill="#ff4500"/>
<rect x="439" y="277" width="1" height="53" fill="#ff0000"/>
<rect x="437" y="292" width="5" height="31" fill="#ff0000"/>
<rect x="438" y="293" width="3" height="29" fill="#ff4500"/>
<rect x="447" y="286" width="1" height="51" fill="#32cd32"/>
<rect x="445" y="292" width="5" height="31" fill="#21c721"/>
<rect x="446" y="293" width="3" height="29" fill="#32cd32"/>
<rect x="455" y="306" width="1" height="23" fill="#ff0000"/>
<rect x="453" y="308" width="5" height="14" fill="#ff0000"/>
<rect x="454" y="309" width="3" height="12" fill="#ff4500"/>
<rect x="463" y="277" width="1" height="44" fill="#ff0000"/>
<rect x="461" y="295" width="5" height="20" fill="#ff0000"/>
<rect x="462" y="296" width="3" height="18" fill="#ff4500"/>
<rect x="471" y="254" width="1" height="46" fill="#ff0000"/>
<rect x="469" y="264" width="5" height="32" fill="#ff0000"/>
<rect x="470" y="265" width="3" height="30" fill="#ff4500"/>
<rect x="479" y="243" width="1" height="44" fill="#ff0000"/>
<rect x="477" y="253" width="5" height="13" fill="#ff0000"/>
<rect x="478" y="254" width="3" height="11" fill="#ff4500"/>
<rect x="487" y="240" width="1" height="31" fill="#32cd32"/>
<rect x="485" y="252" width="5" height="12" fill="#21c721"/>
<rect x="486" y="253" width="3" height="10" fill="#32cd32"/>
<rect x="495" y="248" width="1" height="82" fill="#32cd32"/>
<rect x="493" y="263" width="5" height="52" fill="#21c721"/>
<rect x="494" y="264" width="3" height="50" fill="#32cd32"/>
<rect x="503" y="309" width="1" height="28" fill="#32cd32"/>
<rect x="501" y="314" width="5" height="23" fill="#21c721"/>
<rect x="502" y="315" width="3" height="21" fill="#32cd32"/>
<rect x="511" y="298" width="1" height="55" fill="#ff0000"/>
<rect x="509" y="317" width="5" height="27" fill="#ff0000"/>
<rect x="510" y="318" width="3" height="25" fill="#ff4500"/>
<rect x="519" y="302" width="1" height="26" fill="#ff0000"/>
<rect x="517" y="307" width="5" height="11" fill="#ff0000"/>
<rect x="518" y="308" width="3" height="9" fill="#ff4500"/>
<rect x="527" y="299" width="1" height="62" fill="#32cd32"/>
<rect x="525" y="307" width="5" height="47" fill="#21c721"/>
<rect x="526" y="308" width="3" height="45" fill="#32cd32"/>
<rect x="535" y="348" width="1" height="60" fill="#32cd32"/>
<rect x="533" y="353" width="5" height="45" fill="#21c721"/>
<rect x="534" y="354" width="3" height="43" fill="#32cd32"/>
<rect x="543" y="382" width="1" height="49" fill="#32cd32"/>
<rect x="541" y="397" width="5" height="24" fill="#21c721"/>
<rect x="542" y="398" width="3" height="22" fill="#32cd32"/>
<rect x="551" y="418" width="1" height="23" fill="#32cd32"/>
<rect x="549" y="420" width="5" height="8" fill="#21c721"/>
<rect x="550" y="421" width="3" height="6" fill="#32cd32"/>
<rect x="559" y="389" width="1" height="41" fill="#ff0000"/>
<rect x="557" y="405" width="5" height="23" fill="#ff0000"/>
<rect x="558" y="406" width="3" height="21" fill="#ff4500"/>
<rect x="567" y="385" width="1" height="34" fill="#ff0000"/>
<rect x="565" y="399" width="5" height="7" fill="#ff0000"/>
<rect x="566" y="400" width="3" height="5" fill="#ff4500"/>
<rect x="575" y="349" width="1" height="56" fill="#ff0000"/>
<rect x="573" y="370" width="5" height="30" fill="#ff0000"/>
<rect x="574" y="371" width="3" height="28" fill="#ff4500"/>
<rect x="583" y="302" width="1" height="69" fill="#ff0000"/>
<rect x="581" y="313" width="5" height="58" fill="#ff0000"/>
<rect x="582" y="314" width="3" height="56" fill="#ff4500"/>
<rect x="591" y="270" width="1" height="64" fill="#ff0000"/>
<rect x="589" y="307" width="5" height="7" fill="#ff0000"/>
<rect x="590" y="308" width="3" height="5" fill="#ff4500"/>
<rect x="599" y="291" width="1" height="24" fill="#32cd32"/>
<rect x="597" y="307" width="5" height="4" fill="#21c721"/>
<rect x="598" y="308" width="3" height="2" fill="#32cd32"/>
<rect x="607" y="281" width="1" height="34" fill="#ff0000"/>
<rect x="605" y="281" width="5" height="31" fill="#ff0000"/>
<rect x="606" y="282" width="3" height="29" fill="#ff4500"/>
<rect x="615" y="276" width="1" height="49" fill="#32cd32"/>
<rect x="613" y="282" width="5" height="36" fill="#21c721"/>
<rect x="614" y="283" width="3" height="34" fill="#32cd32"/>
<rect x="623" y="312" width="1" height="46" fill="#32cd32"/>
<rect x="621" y="316" width="5" height="17" fill="#21c721"/>
<rect x="622" y="317" width="3" height="15" fill="#32cd32"/>
<rect x="631" y="263" width="1" height="78" fill="#ff0000"/>
<rect x="629" y="277" width="5" height="56" fill="#ff0000"/>
<rect x="630" y="278" width="3" height="54" fill="#ff4500"/>
<rect x="639" y="273" width="1" height="45" fill="#32cd32"/>
<rect x="637" y="277" width="5" height="25" fill="#21c721"/>
<rect x="638" y="278" width="3" height="23" fill="#32cd32"/>
<rect x="647" y="296" width="1" height="30" fill="#32cd32"/>
<rect x="645" y="301" width="5" height="22" fill="#21c721"/>
<rect x="646" y="302" width="3" height="20" fill="#32cd32"/>
<rect x="655" y="319" width="1" height="20" fill="#32cd32"/>
<rect x="653" y="321" width="5" height="10" fill="#21c721"/>
<rect x="654" y="322" width="3" height="8" fill="#32cd32"/>
<rect x="663" y="301" width="1" height="36" fill="#ff0000"/>
<rect x="661" y="316" width="5" height="15" fill="#ff0000"/>
<rect x="662" y="317" width="3" height="13" fill="#ff4500"/>
<rect x="671" y="314" width="1" height="62" fill="#32cd32"/>
<rect x="669" y="316" width="5" height="58" fill="#21c721"/>
<rect x="670" y="317" width="3" height="56" fill="#32cd32"/>
<rect x="679" y="350" width="1" height="38" fill="#ff0000"/>
<rect x="677" y="365" width="5" height="9" fill="#ff0000"/>
<rect x="678" y="366" width="3" height="7" fill="#ff4500"/>
<rect x="687" y="327" width="1" height="51" fill="#ff0000"/>
<rect x="685" y="363" width="5" height="2" fill="#ff0000"/>
<rect x="695" y="358" width="1" height="41" fill="#32cd32"/>
<rect x="693" y="363" width="5" height="32" fill="#21c721"/>
<rect x="694" y="364" width="3" height="30" fill="#32cd32"/>
<rect x="703" y="364" width="1" height="48" fill="#ff0000"/>
<rect x="701" y="371" width="5" height="28" fill="#ff0000"/>
<rect x="702" y="372" width="3" height="26" fill="#ff4500"/>
<rect x="711" y="331" width="1" height="44" fill="#ff0000"/>
<rect x="709" y="356" width="5" height="16" fill="#ff0000"/>
<rect x="710" y="357" width="3" height="14" fill="#ff4500"/>
<rect x="719" y="354" width="1" height="55" fill="#32cd32"/>
<rect x="717" y="356" width="5" height="36" fill="#21c721"/>
<rect x="718" y="357" width="3" height="34" fill="#32cd32"/>
<rect x="727" y="348" width="1" height="48" fill="#ff0000"/>
<rect x="725" y="377" width="5" height="15" fill="#ff0000"/>
<rect x="726" y="378" width="3" height="13" fill="#ff4500"/>
<rect x="735" y="320" width="1" height="81" fill="#ff0000"/>
<rect x="733" y="325" width="5" height="53" fill="#ff0000"/>
<rect x="734" y="326" width="3" height="51" fill="#ff4500"/>
<rect x="743" y="287" width="1" height="43" fill="#ff0000"/>
<rect x="741" y="288" width="5" height="39" fill="#ff0000"/>
<rect x="742" y="289" width="3" height="37" fill="#ff4500"/>
<rect x="751" y="272" width="1" height="34" fill="#ff0000"/>
<rect x="749" y="274" width="5" height="30" fill="#ff0000"/>
<rect x="750" y="275" width="3" height="28" fill="#ff4500"/>
<rect x="759" y="250" width="1" height="38" fill="#ff0000"/>
<rect x="757" y="260" width="5" height="15" fill="#ff0000"/>
<rect x="758" y="261" width="3" height="13" fill="#ff4500"/>
<rect x="767" y="186" width="1" height="81" fill="#ff0000"/>
<rect x="765" y="210" width="5" height="51" fill="#ff0000"/>
<rect x="766" y="211" width="3" height="49" fill="#ff4500"/>
<rect x="775" y="191" width="1" height="25" fill="#ff0000"/>
<rect x="773" y="200" width="5" height="10" fill="#ff0000"/>
<rect x="774" y="201" width="3" height="8" fill="#ff4500"/>
<rect x="783" y="179" width="1" height="51" fill="#ff0000"/>
<rect x="781" y="198" width="5" height="4" fill="#ff0000"/>
<rect x="782" y="199" width="3" height="2" fill="#ff4500"/>
<rect x="791" y="198" width="1" height="25" fill="#32cd32"/>
<rect x="789" y="198" width="5" height="19" fill="#21c721"/>
<rect x="790" y="199" width="3" height="17" fill="#32cd32"/>
<rect x="799" y="198" width="1" height="29" fill="#32cd32"/>
<rect x="797" y="210" width="5" height="2" fill="#21c721"/>
<rect x="807" y="209" width="1" height="35" fill="#32cd32"/>
<rect x="805" y="211" width="5" height="26" fill="#21c721"/>
<rect x="806" y="212" width="3" height="24" fill="#32cd32"/>
<rect x="815" y="235" width="1" height="48" fill="#32cd32"/>
<rect x="813" y="237" width="5" height="41" fill="#21c721"/>
<rect x="814" y="238" width="3" height="39" fill="#32cd32"/>
<rect x="823" y="258" width="1" height="40" fill="#32cd32"/>
<rect x="821" y="277" width="5" height="2" fill="#21c721"/>
<rect x="831" y="242" width="1" height="53" fill="#ff0000"/>
<rect x="829" y="266" width="5" height="13" fill="#ff0000"/>
<rect x="830" y="267" width="3" height="11" fill="#ff4500"/>
<rect x="839" y="258" width="1" height="14" fill="#ff0000"/>
<rect x="837" y="259" width="5" height="7" fill="#ff0000"/>
<rect x="838" y="260" width="3" height="5" fill="#ff4500"/>
<rect x="847" y="250" width="1" height="39" fill="#ff0000"/>
<rect x="845" y="261" width="5" height="1" fill="#ff0000"/>
<rect x="855" y="246" width="1" height="76" fill="#32cd32"/>
<rect x="853" y="261" width="5" height="33" fill="#21c721"/>
<rect x="854" y="262" width="3" height="31" fill="#32cd32"/>
<rect x="863" y="258" width="1" height="37" fill="#ff0000"/>
<rect x="861" y="271" width="5" height="23" fill="#ff0000"/>
<rect x="862" y="272" width="3" height="21" fill="#ff4500"/>
<rect x="871" y="237" width="1" height="81" fill="#ff0000"/>
<rect x="869" y="243" width="5" height="29" fill="#ff0000"/>
<rect x="870" y="244" width="3" height="27" fill="#ff4500"/>
<rect x="879" y="206" width="1" height="50" fill="#ff0000"/>
<rect x="877" y="219" width="5" height="27" fill="#ff0000"/>
<rect x="878" y="220" width="3" height="25" fill="#ff4500"/>
<rect x="887" y="208" width="1" height="16" fill="#ff0000"/>
<rect x="885" y="214" width="5" height="6" fill="#ff0000"/>
<rect x="886" y="215" width="3" height="4" fill="#ff4500"/>
<rect x="895" y="194" width="1" height="31" fill="#32cd32"/>
<rect x="893" y="207" width="5" height="4" fill="#21c721"/>
<rect x="894" y="208" width="3" height="2" fill="#32cd32"/>
<rect x="903" y="204" width="1" height="39" fill="#32cd32"/>
<rect x="901" y="210" width="5" height="21" fill="#21c721"/>
<rect x="902" y="211" width="3" height="19" fill="#32cd32"/>
<rect x="911" y="201" width="1" height="41" fill="#ff0000"/>
<rect x="909" y="201" width="5" height="30" fill="#ff0000"/>
<rect x="910" y="202" width="3" height="28" fill="#ff4500"/>
<rect x="919" y="198" width="1" height="27" fill="#32cd32"/>
<rect x="917" y="201" width="5" height="12" fill="#21c721"/>
<rect x="918" y="202" width="3" height="10" fill="#32cd32"/>
</g>
<!-- S/R lines -->
<rect x="761" y="174" width="206" height="2" fill="#f32222"/>
<rect x="771" y="295" width="192" height="2" fill="#8fc31a"/>
<rect x="681" y="360" width="291" height="2" fill="#2c8be3"/>
<rect x="6" y="539" width="3" height="18" fill="#b8b8b8"/>
<rect x="14" y="542" width="3" height="15" fill="#b8b8b8"/>
<rect x="22" y="542" width="3" height="15" fill="#b8b8b8"/>
<rect x="30" y="544" width="3" height="13" fill="#b8b8b8"/>
<rect x="38" y="542" width="3" height="15" fill="#b8b8b8"/>
<rect x="46" y="541" width="3" height="16" fill="#b8b8b8"/>
<rect x="54" y="540" width="3" height="17" fill="#b8b8b8"/>
<rect x="62" y="542" width="3" height="15" fill="#b8b8b8"/>
<rect x="70" y="542" width="3" height="15" fill="#b8b8b8"/>
<rect x="78" y="542" width="3" height="15" fill="#b8b8b8"/>
<rect x="86" y="542" width="3" height="15" fill="#b8b8b8"/>
<rect x="94" y="539" width="3" height="18" fill="#b8b8b8"/>
<rect x="102" y="540" width="3" height="17" fill="#b8b8b8"/>
<rect x="110" y="540" width="3" height="17" fill="#b8b8b8"/>
<rect x="118" y="540" width="3" height="17" fill="#b8b8b8"/>
<rect x="126" y="543" width="3" height="14" fill="#b8b8b8"/>
<rect x="134" y="545" width="3" height="12" fill="#b8b8b8"/>
<rect x="142" y="542" width="3" height="15" fill="#b8b8b8"/>
<rect x="150" y="539" width="3" height="18" fill="#b8b8b8"/>
<rect x="158" y="540" width="3" height="17" fill="#b8b8b8"/>
<rect x="166" y="541" width="3" height="16" fill="#b8b8b8"/>
<rect x="174" y="540" width="3" height="17" fill="#b8b8b8"/>
<rect x="182" y="538" width="3" height="19" fill="#b8b8b8"/>
<rect x="190" y="539" width="3" height="18" fill="#b8b8b8"/>
<rect x="198" y="540" width="3" height="17" fill="#b8b8b8"/>
<rect x="206" y="540" width="3" height="17" fill="#b8b8b8"/>
<rect x="214" y="540" width="3" height="17" fill="#b8b8b8"/>
<rect x="222" y="540" width="3" height="17" fill="#b8b8b8"/>
<rect x="230" y="539" width="3" height="18" fill="#b8b8b8"/>
<rect x="238" y="539" width="3" height="18" fill="#b8b8b8"/>
<rect x="246" y="537" width="3" height="20" fill="#b8b8b8"/>
<rect x="254" y="534" width="3" height="23" fill="#b8b8b8"/>
<rect x="262" y="530" width="3" height="27" fill="#b8b8b8"/>
<rect x="270" y="528" width="3" height="29" fill="#b8b8b8"/>
<rect x="278" y="527" width="3" height="30" fill="#b8b8b8"/>
<rect x="286" y="526" width="3" height="31" fill="#b8b8b8"/>
<rect x="294" y="524" width="3" height="33" fill="#b8b8b8"/>
<rect x="302" y="524" width="3" height="33" fill="#b8b8b8"/>
<rect x="310" y="523" width="3" height="34" fill="#b8b8b8"/>
<rect x="318" y="523" width="3" height="34" fill="#b8b8b8"/>
<rect x="326" y="524" width="3" height="33" fill="#b8b8b8"/>
<rect x="334" y="526" width="3" height="31" fill="#b8b8b8"/>
<rect x="342" y="530" width="3" height="27" fill="#b8b8b8"/>
<rect x="350" y="537" width="3" height="20" fill="#b8b8b8"/>
<rect x="358" y="543" width="3" height="14" fill="#b8b8b8"/>
<rect x="366" y="549" width="3" height="8" fill="#b8b8b8"/>
<rect x="374" y="555" width="3" height="2" fill="#b8b8b8"/>
<rect x="382" y="557" width="3" height="5" fill="#b8b8b8"/>
<rect x="390" y="557" width="3" height="10" fill="#b8b8b8"/>
<rect x="398" y="557" width="3" height="13" fill="#b8b8b8"/>
<rect x="406" y="557" width="3" height="15" fill="#b8b8b8"/>
<rect x="414" y="557" width="3" height="17" fill="#b8b8b8"/>
<rect x="422" y="557" width="3" height="18" fill="#b8b8b8"/>
<rect x="430" y="557" width="3" height="19" fill="#b8b8b8"/>
<rect x="438" y="557" width="3" height="18" fill="#b8b8b8"/>
<rect x="446" y="557" width="3" height="19" fill="#b8b8b8"/>
<rect x="454" y="557" width="3" height="18" fill="#b8b8b8"/>
<rect x="462" y="557" width="3" height="16" fill="#b8b8b8"/>
<rect x="470" y="557" width="3" height="15" fill="#b8b8b8"/>
<rect x="478" y="557" width="3" height="12" fill="#b8b8b8"/>
<rect x="486" y="557" width="3" height="10" fill="#b8b8b8"/>
<rect x="494" y="557" width="3" height="10" fill="#b8b8b8"/>
<rect x="502" y="557" width="3" height="12" fill="#b8b8b8"/>
<rect x="510" y="557" width="3" height="13" fill="#b8b8b8"/>
<rect x="518" y="557" width="3" height="13" fill="#b8b8b8"/>
<rect x="526" y="557" width="3" height="14" fill="#b8b8b8"/>
<rect x="534" y="557" width="3" height="17" fill="#b8b8b8"/>
<rect x="542" y="557" width="3" height="20" fill="#b8b8b8"/>
<rect x="550" y="557" width="3" height="22" fill="#b8b8b8"/>
<rect x="558" y="557" width="3" height="23" fill="#b8b8b8"/>
<rect x="566" y="557" width="3" height="22" fill="#b8b8b8"/>
<rect x="574" y="557" width="3" height="20" fill="#b8b8b8"/>
<rect x="582" y="557" width="3" height="18" fill="#b8b8b8"/>
<rect x="590" y="557" width="3" height="14" fill="#b8b8b8"/>
<rect x="598" y="557" width="3" height="12" fill="#b8b8b8"/>
<rect x="606" y="557" width="3" height="8" fill="#b8b8b8"/>
<rect x="614" y="557" width="3" height="7" fill="#b8b8b8"/>
<rect x="622" y="557" width="3" height="6" fill="#b8b8b8"/>
<rect x="630" y="557" width="3" height="4" fill="#b8b8b8"/>
<rect x="638" y="557" width="3" height="3" fill="#b8b8b8"/>
<rect x="646" y="557" width="3" height="3" fill="#b8b8b8"/>
<rect x="654" y="557" width="3" height="3" fill="#b8b8b8"/>
<rect x="662" y="557" width="3" height="2" fill="#b8b8b8"/>
<rect x="670" y="557" width="3" height="3" fill="#b8b8b8"/>
<rect x="678" y="557" width="3" height="6" fill="#b8b8b8"/>
<rect x="686" y="557" width="3" height="6" fill="#b8b8b8"/>
<rect x="694" y="557" width="3" height="7" fill="#b8b8b8"/>
<rect x="702" y="557" width="3" height="9" fill="#b8b8b8"/>
<rect x="710" y="557" width="3" height="8" fill="#b8b8b8"/>
<rect x="718" y="557" width="3" height="9" fill="#b8b8b8"/>
<rect x="726" y="557" width="3" height="10" fill="#b8b8b8"/>
<rect x="734" y="557" width="3" height="8" fill="#b8b8b8"/>
<rect x="742" y="557" width="3" height="4" fill="#b8b8b8"/>
<rect x="750" y="557" width="3" height="1" fill="#b8b8b8"/>
<rect x="758" y="554" width="3" height="3" fill="#b8b8b8"/>
<rect x="766" y="549" width="3" height="8" fill="#b8b8b8"/>
<rect x="774" y="545" width="3" height="12" fill="#b8b8b8"/>
<rect x="782" y="542" width="3" height="15" fill="#b8b8b8"/>
<rect x="790" y="541" width="3" height="16" fill="#b8b8b8"/>
<rect x="798" y="540" width="3" height="17" fill="#b8b8b8"/>
<rect x="806" y="540" width="3" height="17" fill="#b8b8b8"/>
<rect x="814" y="542" width="3" height="15" fill="#b8b8b8"/>
<rect x="822" y="544" width="3" height="13" fill="#b8b8b8"/>
<rect x="830" y="545" width="3" height="12" fill="#b8b8b8"/>
<rect x="838" y="546" width="3" height="11" fill="#b8b8b8"/>
<rect x="846" y="547" width="3" height="10" fill="#b8b8b8"/>
<rect x="854" y="549" width="3" height="8" fill="#b8b8b8"/>
<rect x="862" y="550" width="3" height="7" fill="#b8b8b8"/>
<rect x="870" y="549" width="3" height="8" fill="#b8b8b8"/>
<rect x="878" y="547" width="3" height="10" fill="#b8b8b8"/>
<rect x="886" y="547" width="3" height="10" fill="#b8b8b8"/>
<rect x="894" y="546" width="3" height="11" fill="#b8b8b8"/>
<rect x="902" y="546" width="3" height="11" fill="#b8b8b8"/>
<rect x="910" y="545" width="3" height="12" fill="#b8b8b8"/>
<rect x="918" y="545" width="3" height="12" fill="#b8b8b8"/>
<polyline points="7.5,476.3 15.5,484.9 23.5,483.3 31.5,482.3 39.5,478.3 47.5,475.3 55.5,482.7 63.5,480.3 71.5,481.7 79.5,480.3 87.5,478.3 95.5,473.9 103.5,480.7 111.5,480.7 119.5,480.7 127.5,487.9 135.5,486.3 143.5,477.7 151.5,476.7 159.5,483.3 167.5,484.7 175.5,479.7 183.5,479.7 191.5,483.9 199.5,482.7 207.5,481.9 215.5,481.9 223.5,481.9 231.5,478.7 239.5,480.7 247.5,477.7 255.5,475.7 263.5,474.7 271.5,474.7 279.5,474.7 287.5,473.7 295.5,472.7 303.5,472.9 311.5,472.9 319.5,472.7 327.5,475.7 335.5,476.9 343.5,484.3 351.5,491.7 359.5,490.7 367.5,494.7 375.5,495.9 383.5,497.7 391.5,497.7 399.5,495.7 407.5,494.7 415.5,494.7 423.5,495.7 431.5,495.7 439.5,491.3 447.5,493.7 455.5,491.7 463.5,490.3 471.5,486.7 479.5,485.3 487.5,487.3 495.5,491.7 503.5,493.9 511.5,490.3 519.5,489.7 527.5,493.3 535.5,496.3 543.5,498.7 551.5,498.7 559.5,495.7 567.5,494.7 575.5,491.7 583.5,485.7 591.5,484.7 599.5,484.7 607.5,482.7 615.5,485.7 623.5,487.7 631.5,482.7 639.5,484.7 647.5,486.7 655.5,487.7 663.5,485.3 671.5,490.7 679.5,490.7 687.5,489.7 695.5,492.7 703.5,489.7 711.5,488.7 719.5,491.7 727.5,489.7 735.5,485.3 743.5,481.9 751.5,480.7 759.5,479.3 767.5,475.7 775.5,475.7 783.5,475.7 791.5,477.7 799.5,477.7 807.5,481.3 815.5,485.7 823.5,485.7 831.5,483.7 839.5,483.7 847.5,483.7 855.5,487.7 863.5,484.7 871.5,481.9 879.5,479.7 887.5,479.7 895.5,478.5 903.5,481.9 911.5,478.5 919.5,480.7" fill="none" stroke="#1e90ff" stroke-width="1"/>
<polyline points="7.5,543.9 18.5,543.5 47.5,542.1 59.5,541.5 64.5,542.5 96.5,542.5 99.5,541.5 131.5,541.5 136.5,542.5 144.5,542.5 148.5,541.5 202.5,541.5 206.5,540.5 234.5,540.5 238.5,539.5 256.5,539.9 263.9,538.5 279.9,535.5 295.9,532.5 311.9,528.9 327.9,526.5 335.9,525.9 346.5,525.9 356.5,527.9 367.9,531.9 383.9,539.5 399.9,549.5 415.9,558.5 431.9,566.5 439.9,569.5 447.9,571.9 455.9,572.9 463.9,573.9 482.5,573.9 498.5,572.5 515.9,569.9 536.5,569.9 552.5,571.9 566.5,573.5 580.5,575.5 602.5,575.5 612.5,573.5 628.5,570.5 644.5,565.9 660.5,562.9 670.5,561.1 698.5,561.1 704.5,561.9 714.5,563.1 723.5,563.1 732.5,565.1 746.5,565.1 760.5,562.5 784.5,556.5 800.5,550.5 816.5,546.5 828.5,543.9 851.5,543.9 860.5,545.5 876.5,547.5 919.5,547.5" fill="none" stroke="#ff0000" stroke-width="1"/>
<!-- price box -->
<!-- trade panel -->
<rect x="10" y="49" width="220" height="64" fill="#fff"/>
<rect x="10" y="49" width="52" height="25" fill="#c20c0c"/>
<rect x="177" y="49" width="52" height="25" fill="#c20c0c"/>
<rect x="11" y="50" width="50" height="24" fill="url(#gt)"/>
<rect x="178" y="50" width="50" height="24" fill="url(#gt)"/>
<rect x="10" y="73" width="109" height="40" fill="#b40606"/>
<rect x="121" y="73" width="108" height="40" fill="#b40606"/>
<rect x="11" y="74" width="107" height="38" fill="url(#gp)"/>
<rect x="122" y="74" width="106" height="38" fill="url(#gp)"/>
<rect x="11" y="73" width="50" height="1" fill="#e23232"/>
<rect x="178" y="73" width="50" height="1" fill="#e23232"/>
<rect x="14" y="72" width="44" height="1" fill="#9c0606"/>
<rect x="181" y="72" width="44" height="1" fill="#9c0606"/>
<rect x="14" y="73" width="44" height="1" fill="#ff8a8a"/>
<rect x="181" y="73" width="44" height="1" fill="#ff8a8a"/>
<rect x="64" y="49" width="112" height="22" fill="#9ea4ae"/>
<rect x="65" y="50" width="110" height="20" fill="#fff"/>
<rect x="66" y="51" width="19" height="18" fill="url(#gb)"/>
<rect x="85" y="50" width="1" height="20" fill="#b4b8c0"/>
<rect x="154" y="50" width="1" height="20" fill="#b4b8c0"/>
<rect x="155" y="51" width="19" height="18" fill="url(#gb)"/>
</g>
<polygon points="72,58 77.4,58 74.7,61.4" fill="#4a5ab4"/>
<polygon points="160.4,61.4 166,61.4 163.2,58" fill="#4a5ab4"/>
<polygon points="9.9,40 17.3,40 13.6,36" fill="#000"/>
<!-- tab separators and arrows -->
<g shape-rendering="crispEdges"><rect x="112" y="609" width="1" height="13" fill="#6f6f6f"/><rect x="216" y="609" width="1" height="13" fill="#6f6f6f"/><rect x="524" y="609" width="1" height="13" fill="#6f6f6f"/><rect x="620" y="609" width="1" height="13" fill="#6f6f6f"/><rect x="712" y="609" width="1" height="13" fill="#6f6f6f"/><rect x="804" y="609" width="1" height="13" fill="#6f6f6f"/><rect x="892" y="609" width="1" height="13" fill="#6f6f6f"/><rect x="996" y="609" width="1" height="13" fill="#6f6f6f"/><rect x="1064" y="609" width="1" height="13" fill="#6f6f6f"/><rect x="1156" y="609" width="1" height="13" fill="#6f6f6f"/></g>
<polygon points="1188,611 1188,617.4 1184.6,614.2" fill="#8c8c8c"/>
<polygon points="1204,611 1204,617.4 1207.6,614.2" fill="#000"/>
<g>
<text transform="translate(-9.50,17) scale(0.9549,1)" font-size="9.6" fill="#3a3a3a">M15</text>
<text transform="translate(18.50,17) scale(0.9549,1)" font-size="9.6" fill="#3a3a3a">M30</text>
<text transform="translate(50.00,17) scale(0.9222,1)" font-size="9.6" fill="#3a3a3a">H1</text>
<text transform="translate(77.00,17) scale(0.9282,1)" font-size="9.6" fill="#3a3a3a">H4</text>
<text transform="translate(105.50,17) scale(0.9641,1)" font-size="9.6" fill="#3a3a3a">D1</text>
<text transform="translate(133.00,17) scale(0.9961,1)" font-size="9.6" fill="#3a3a3a">W1</text>
<text transform="translate(159.50,17) scale(1.0006,1)" font-size="9.6" fill="#3a3a3a">MN</text>
<text transform="translate(22.50,41) scale(1.0046,1)" font-size="9.6" fill="#000" stroke="#000" stroke-width="0.1">USDCAD,Daily</text>
<text transform="translate(94.50,41) scale(0.9337,1)" font-size="9.6" fill="#000" stroke="#000" stroke-width="0.1">1.34334</text>
<text transform="translate(130.50,41) scale(0.9609,1)" font-size="9.6" fill="#000" stroke="#000" stroke-width="0.1">1.34386</text>
<text transform="translate(166.50,41) scale(0.9609,1)" font-size="9.6" fill="#000" stroke="#000" stroke-width="0.1">1.33975</text>
<text transform="translate(202.70,41) scale(0.9609,1)" font-size="9.6" fill="#000" stroke="#000" stroke-width="0.1">1.34163</text>
<text transform="translate(22.30,65) scale(0.8383,1)" font-size="12.4" fill="#fff">SELL</text>
<text transform="translate(189.37,65) scale(0.9251,1)" font-size="12.4" fill="#fff">BUY</text>
<text transform="translate(127.00,63.5) scale(1.0461,1)" font-size="11.5" fill="#101828">5.00</text>
<text transform="translate(30.00,103.5) scale(1.0223,1)" font-size="11.5" fill="#fff" font-weight="bold">1.34</text>
<text transform="translate(140.00,103.5) scale(1.0441,1)" font-size="11.5" fill="#fff" font-weight="bold">1.34</text>
<text transform="translate(55.90,103.5) scale(1.0317,1)" font-size="35" fill="#fff" style="font-family:'Liberation Serif',serif">16</text>
<text transform="translate(166.86,103.5) scale(1.0476,1)" font-size="35" fill="#fff" style="font-family:'Liberation Serif',serif">18</text>
<text transform="translate(97.50,87.5) scale(0.9167,1)" font-size="11" fill="#fff" font-weight="bold">3</text>
<text transform="translate(208.00,87.5) scale(1.0000,1)" font-size="11" fill="#fff" font-weight="bold">5</text>
<text transform="translate(1175.40,56) scale(0.9376,1)" font-size="9.6" fill="#000" stroke="#000" stroke-width="0.1">1.36610</text>
<text transform="translate(1175.40,89) scale(0.9376,1)" font-size="9.6" fill="#000" stroke="#000" stroke-width="0.1">1.36100</text>
<text transform="translate(1175.40,122) scale(0.9376,1)" font-size="9.6" fill="#000" stroke="#000" stroke-width="0.1">1.35605</text>
<text transform="translate(1175.40,155) scale(0.9376,1)" font-size="9.6" fill="#000" stroke="#000" stroke-width="0.1">1.35095</text>
<text transform="translate(1175.40,188) scale(0.9376,1)" font-size="9.6" fill="#000" stroke="#000" stroke-width="0.1">1.34600</text>
<text transform="translate(1175.40,221) scale(0.9376,1)" font-size="9.6" fill="#000" stroke="#000" stroke-width="0.1">1.34090</text>
<text transform="translate(1175.40,254) scale(0.9376,1)" font-size="9.6" fill="#000" stroke="#000" stroke-width="0.1">1.33580</text>
<text transform="translate(1175.40,287) scale(0.9376,1)" font-size="9.6" fill="#000" stroke="#000" stroke-width="0.1">1.33085</text>
<text transform="translate(1175.40,320) scale(0.9376,1)" font-size="9.6" fill="#000" stroke="#000" stroke-width="0.1">1.32575</text>
<text transform="translate(1175.40,353) scale(0.9376,1)" font-size="9.6" fill="#000" stroke="#000" stroke-width="0.1">1.32065</text>
<text transform="translate(1175.40,386) scale(0.9376,1)" font-size="9.6" fill="#000" stroke="#000" stroke-width="0.1">1.31570</text>
<text transform="translate(1175.40,419) scale(0.9376,1)" font-size="9.6" fill="#000" stroke="#000" stroke-width="0.1">1.31060</text>
<text transform="translate(1175.40,452) scale(0.9376,1)" font-size="9.6" fill="#000" stroke="#000" stroke-width="0.1">1.30565</text>
<rect x="1171" y="207" width="40" height="11" fill="#000" shape-rendering="crispEdges"/><rect x="1169" y="217" width="3" height="1" fill="#000" shape-rendering="crispEdges"/><text transform="translate(1175.40,216) scale(0.9376,1)" font-size="9.6" fill="#fff">1.34163</text>
<text transform="translate(1173.60,464) scale(0.9061,1)" font-size="9.6" fill="#000" stroke="#000" stroke-width="0.1">100</text>
<text transform="translate(1172.00,477) scale(0.9675,1)" font-size="9.6" fill="#000" stroke="#000" stroke-width="0.1">70</text>
<text transform="translate(1172.00,502) scale(0.9675,1)" font-size="9.6" fill="#000" stroke="#000" stroke-width="0.1">30</text>
<text transform="translate(1173.00,514) scale(1.0000,1)" font-size="9.6" fill="#000" stroke="#000" stroke-width="0.1">0</text>
<text transform="translate(1173.00,530) scale(0.9829,1)" font-size="9.6" fill="#000" stroke="#000" stroke-width="0.1">0.010525</text>
<text transform="translate(1173.40,561) scale(0.9380,1)" font-size="9.6" fill="#000" stroke="#000" stroke-width="0.1">0.00</text>
<text transform="translate(1173.20,579) scale(0.9471,1)" font-size="9.6" fill="#000" stroke="#000" stroke-width="0.1">-0.0073</text>
<text transform="translate(11.00,466) scale(0.9706,1)" font-size="9.6" fill="#000" stroke="#000" stroke-width="0.1">RSI(14) 58.9079</text>
<text transform="translate(11.40,532) scale(0.9732,1)" font-size="9.6" fill="#000" stroke="#000" stroke-width="0.1">MACD(12,26,9) 0.003366 0.002738</text>
<text transform="translate(6.70,595) scale(0.9858,1)" font-size="9.6" fill="#000" stroke="#000" stroke-width="0.1">15 Nov 2018</text>
<text transform="translate(70.70,595) scale(0.9987,1)" font-size="9.6" fill="#000" stroke="#000" stroke-width="0.1">24 Nov 2018</text>
<text transform="translate(134.70,595) scale(0.9644,1)" font-size="9.6" fill="#000" stroke="#000" stroke-width="0.1">4 Dec 2018</text>
<text transform="translate(198.70,595) scale(0.9562,1)" font-size="9.6" fill="#000" stroke="#000" stroke-width="0.1">13 Dec 2018</text>
<text transform="translate(262.70,595) scale(0.9562,1)" font-size="9.6" fill="#000" stroke="#000" stroke-width="0.1">22 Dec 2018</text>
<text transform="translate(326.70,595) scale(0.9334,1)" font-size="9.6" fill="#000" stroke="#000" stroke-width="0.1">1 Jan 2019</text>
<text transform="translate(390.70,595) scale(0.9528,1)" font-size="9.6" fill="#000" stroke="#000" stroke-width="0.1">10 Jan 2019</text>
<text transform="translate(454.70,595) scale(0.9528,1)" font-size="9.6" fill="#000" stroke="#000" stroke-width="0.1">19 Jan 2019</text>
<text transform="translate(518.70,595) scale(0.9528,1)" font-size="9.6" fill="#000" stroke="#000" stroke-width="0.1">29 Jan 2019</text>
<text transform="translate(582.70,595) scale(0.9688,1)" font-size="9.6" fill="#000" stroke="#000" stroke-width="0.1">7 Feb 2019</text>
<text transform="translate(646.70,595) scale(0.9526,1)" font-size="9.6" fill="#000" stroke="#000" stroke-width="0.1">16 Feb 2019</text>
<text transform="translate(710.70,595) scale(0.9582,1)" font-size="9.6" fill="#000" stroke="#000" stroke-width="0.1">26 Feb 2019</text>
<text transform="translate(774.70,595) scale(0.9752,1)" font-size="9.6" fill="#000" stroke="#000" stroke-width="0.1">7 Mar 2019</text>
<text transform="translate(838.70,595) scale(0.9658,1)" font-size="9.6" fill="#000" stroke="#000" stroke-width="0.1">16 Mar 2019</text>
<text transform="translate(902.70,595) scale(0.9658,1)" font-size="9.6" fill="#000" stroke="#000" stroke-width="0.1">26 Mar 2019</text>
<text transform="translate(19.08,620) scale(0.9206,1)" font-size="13" fill="#6b6b6b">EURUSD,Daily</text>
<text transform="translate(122.80,620) scale(0.9351,1)" font-size="13" fill="#6b6b6b">AUDUSD,Daily</text>
<text transform="translate(225.07,620) scale(0.9324,1)" font-size="13" fill="#6b6b6b">USDCHF,Daily</text>
<text transform="translate(327.08,620) scale(0.9206,1)" font-size="13" fill="#000">USDCAD,Daily</text>
<text transform="translate(429.05,620) scale(0.9473,1)" font-size="13" fill="#6b6b6b">USDCNH,Daily</text>
<text transform="translate(533.08,620) scale(0.9189,1)" font-size="13" fill="#6b6b6b">USDJPY,Daily</text>
<text transform="translate(630.70,620) scale(0.9342,1)" font-size="13" fill="#6b6b6b">XAUUSD,H1</text>
<text transform="translate(723.30,620) scale(0.9212,1)" font-size="13" fill="#6b6b6b">GBPUSD,H4</text>
<text transform="translate(816.00,620) scale(0.9350,1)" font-size="13" fill="#6b6b6b">SP500,M15</text>
<text transform="translate(903.70,620) scale(0.9101,1)" font-size="13" fill="#6b6b6b">GBPUSD,Daily</text>
<text transform="translate(1005.05,620) scale(0.9524,1)" font-size="13" fill="#6b6b6b">DJ30,H4</text>
<text transform="translate(1073.70,620) scale(0.9160,1)" font-size="13" fill="#6b6b6b">TECH100,H1</text>
<g clip-path="url(#tabclip)"><text transform="translate(1168.38,620) scale(0.9160,1)" font-size="13" fill="#6b6b6b">UK100,H1</text></g>
</g>
</svg>
</body></html>
